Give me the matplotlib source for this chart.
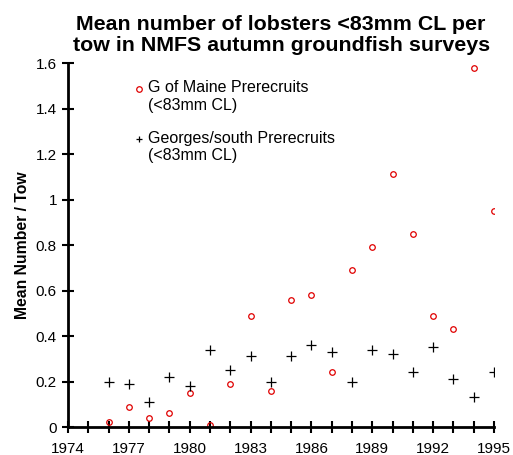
import numpy as np
import matplotlib.pyplot as plt
from matplotlib.ticker import FuncFormatter, MultipleLocator

plt.rcParams['font.family'] = ['Liberation Sans', 'DejaVu Sans']

# survey years and mean catch per tow
years = [1976, 1977, 1978, 1979, 1980, 1981, 1982, 1983, 1984, 1985,
         1986, 1987, 1988, 1989, 1990, 1991, 1992, 1993, 1994, 1995]
gulf_maine = [0.02, 0.09, 0.04, 0.06, 0.15, 0.01, 0.19, 0.49, 0.16, 0.56,
              0.58, 0.24, 0.69, 0.79, 1.11, 0.85, 0.49, 0.43, 1.58, 0.95]
georges = [0.20, 0.19, 0.11, 0.22, 0.18, 0.34, 0.25, 0.31, 0.20, 0.31,
           0.36, 0.33, 0.20, 0.34, 0.32, 0.24, 0.35, 0.21, 0.13, 0.24]

fig = plt.figure(figsize=(5.13, 4.55), dpi=100)
ax = fig.add_axes([0.1326, 0.0615, 0.8304, 0.80])

ax.plot(years, gulf_maine, linestyle='none', marker='o', markersize=4,
        markerfacecolor='none', markeredgecolor='#e00000', markeredgewidth=0.9)
ax.plot(years, georges, linestyle='none', marker='+', markersize=7,
        color='black', markeredgewidth=0.9)

ax.set_xlim(1974, 1995)
ax.set_ylim(0, 1.6)
ax.xaxis.set_major_locator(MultipleLocator(3))
ax.xaxis.set_minor_locator(MultipleLocator(1))
ax.yaxis.set_major_locator(MultipleLocator(0.2))
ax.yaxis.set_major_formatter(FuncFormatter(lambda v, p: f"{v:g}"))

for s in ['top', 'right']:
    ax.spines[s].set_visible(False)
for s in ['left', 'bottom']:
    ax.spines[s].set_linewidth(2)
    ax.spines[s].set_clip_on(False)

ax.tick_params(which='both', direction='inout', length=9, width=1.5,
               labelsize=11, color='black')
ax.tick_params(axis='x', pad=6)

ax.set_ylabel('Mean Number / Tow', fontsize=11.3, fontweight='bold', labelpad=4)
fig.suptitle('Mean number of lobsters <83mm CL per\ntow in NMFS autumn groundfish surveys',
             fontsize=15.4, fontweight='bold', x=0.548, y=0.966, linespacing=1.12)

# hand-made key
t = ax.transAxes
ax.plot([0.167], [0.928], transform=t, linestyle='none', marker='o', markersize=4,
        markerfacecolor='none', markeredgecolor='#e00000', markeredgewidth=0.9, clip_on=False)
ax.text(0.188, 0.952, 'G of Maine Prerecruits\n(<83mm CL)', transform=t,
        fontsize=11.5, va='top', ha='left', linespacing=1.2)
ax.plot([0.167], [0.79], transform=t, linestyle='none', marker='+', markersize=5,
        color='black', markeredgewidth=0.9, clip_on=False)
ax.text(0.188, 0.814, 'Georges/south Prerecruits\n(<83mm CL)', transform=t,
        fontsize=11.5, va='top', ha='left', linespacing=1.2)

fig.savefig('out.png', dpi=100)
